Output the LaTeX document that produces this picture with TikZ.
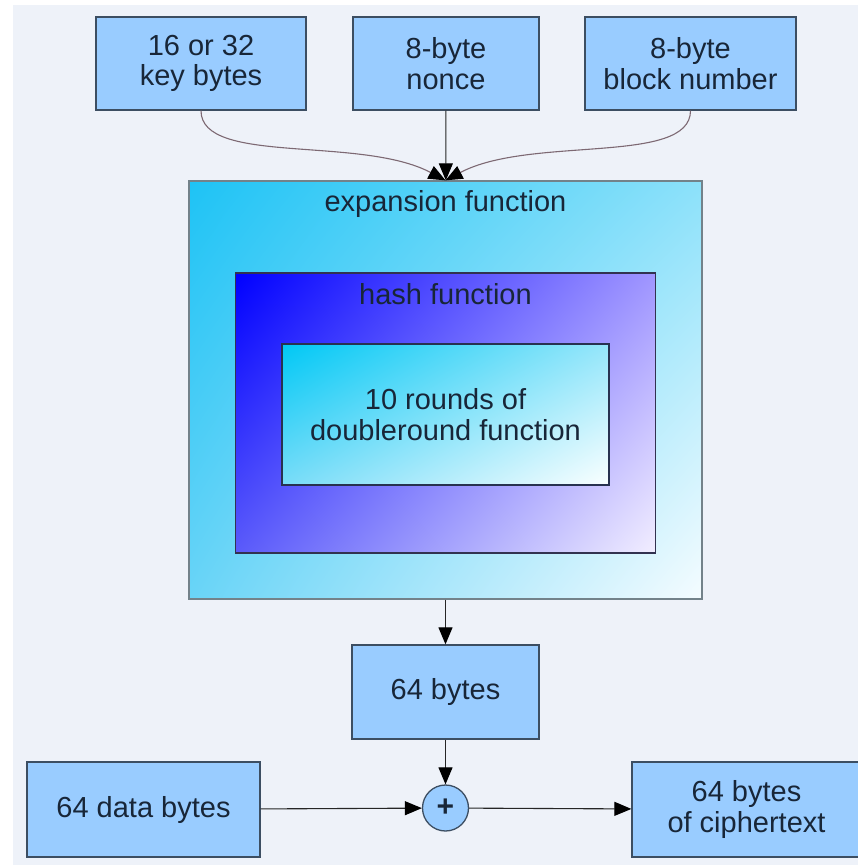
\documentclass[tikz,border=0pt]{standalone}
\usepackage{fontspec}
\setmainfont{Liberation Sans}
\usepackage{tikz}
\usetikzlibrary{arrows.meta,shadings}

\definecolor{bgcol}{RGB}{238,242,249}
\definecolor{boxfill}{RGB}{153,204,255}
\definecolor{boxline}{RGB}{60,78,98}
\definecolor{txtcol}{RGB}{24,38,56}
\definecolor{curvecol}{RGB}{125,105,115}

\begin{document}
\begin{tikzpicture}[x=1pt,y=-1pt,font=\fontsize{29}{30.5}\selectfont]
						\useasboundingbox (0,0) rectangle (858,865);
						\fill[white] (0,0) rectangle (858,865);
						\fill[bgcol] (13,5) rectangle (858,865);

						\begin{scope}[every node/.style={draw=boxline,line width=1.3pt,fill=boxfill,
									text=txtcol,align=center,inner sep=0pt}]
							% inputs
							\node[minimum width=210pt,minimum height=93pt] (key) at (201,63.5) {16 or 32\\key bytes};
							\node[minimum width=186pt,minimum height=93pt] (nonce) at (446,63.5) {8-byte\\nonce};
							\node[minimum width=211pt,minimum height=93pt] (blk) at (690.5,63.5) {8-byte\\block number};
							% nested functions
							\node[minimum width=513pt,minimum height=418pt,draw=black!55!cyan!40!gray,
								shading=bilinear interpolation,
								upper left={rgb,255:red,30;green,195;blue,245},
								upper right={rgb,255:red,140;green,225;blue,250},
								lower left={rgb,255:red,105;green,212;blue,247},
								lower right={rgb,255:red,245;green,252;blue,255}] (exp) at (445.5,390) {};
							\node[minimum width=420pt,minimum height=280pt,draw={rgb,255:red,50;green,50;blue,80},
								shading=bilinear interpolation,
								upper left={rgb,255:red,0;green,0;blue,255},
								upper right={rgb,255:red,160;green,150;blue,255},
								lower left={rgb,255:red,90;green,90;blue,250},
								lower right={rgb,255:red,242;green,238;blue,255}] (hash) at (445.5,413) {};
							\node[minimum width=327pt,minimum height=141pt,draw={rgb,255:red,40;green,50;blue,80},
								shading=bilinear interpolation,
								upper left={rgb,255:red,0;green,200;blue,245},
								upper right={rgb,255:red,150;green,230;blue,250},
								lower left={rgb,255:red,120;green,220;blue,248},
								lower right={rgb,255:red,250;green,255;blue,255}] (dbl) at (445.5,414.5) {10 rounds of\\doubleround function};
							% outputs
							\node[minimum width=187pt,minimum height=94pt] (ks) at (445.5,692) {64 bytes};
							\node[circle,minimum size=46pt,font=\fontsize{30}{30}\bfseries] (xor) at (445.5,808) {+};
							\node[minimum width=233pt,minimum height=95pt] (data) at (143.5,809.5) {64 data bytes};
							\node[minimum width=229pt,minimum height=95pt] (ct) at (746.5,809.5) {64 bytes\\of ciphertext};
						\end{scope}

						% titles of the nested boxes
						\node[text=txtcol,anchor=base] (expl) at ([yshift=-31pt]exp.north) {expansion function};
						\node[text=txtcol,anchor=base] (hashl) at ([yshift=-32pt]hash.north) {hash function};

						\begin{scope}[>={Triangle[length=17pt,width=14pt,black]},
									every edge/.style={draw=black!85,line width=1.1pt}]
							\draw[->,curvecol,line width=1.1pt] (key.south) .. controls +(0,55) and +(-85,-45) .. (exp.north);
							\draw[->,curvecol,line width=1.1pt] (blk.south) .. controls +(0,55) and +(85,-45) .. (exp.north);
							\path [->] (nonce) edge (exp);
							\path [->] (exp) edge (ks);
							\path [->] (ks) edge (xor);
							\path [->] (data) edge (xor);
							\path [->] (xor) edge (ct);
						\end{scope}
					\end{tikzpicture}
\end{document}
